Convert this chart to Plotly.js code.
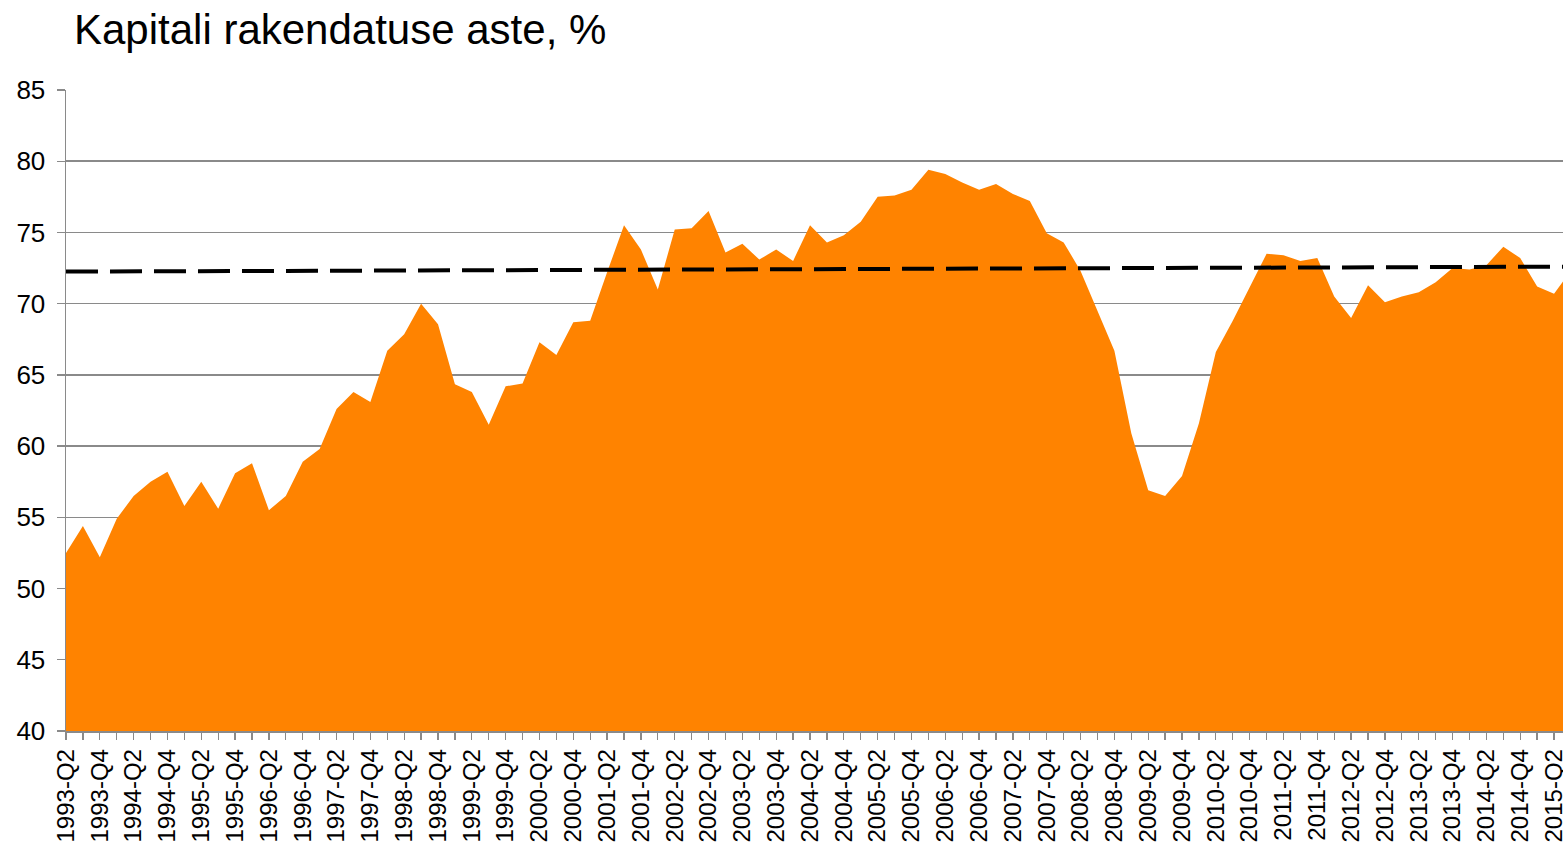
<!DOCTYPE html>
<html>
<head>
<meta charset="utf-8">
<script src="https://cdn.plot.ly/plotly-3.0.1.min.js"></script>
<style>
  html, body { margin: 0; padding: 0; background: #fff; }
  #chart { width: 1563px; height: 852px; }
</style>
</head>
<body>
<div id="chart"></div>
<script>
const categories = [
  "1993-Q2","1993-Q3","1993-Q4",
  "1994-Q1","1994-Q2","1994-Q3","1994-Q4",
  "1995-Q1","1995-Q2","1995-Q3","1995-Q4",
  "1996-Q1","1996-Q2","1996-Q3","1996-Q4",
  "1997-Q1","1997-Q2","1997-Q3","1997-Q4",
  "1998-Q1","1998-Q2","1998-Q3","1998-Q4",
  "1999-Q1","1999-Q2","1999-Q3","1999-Q4",
  "2000-Q1","2000-Q2","2000-Q3","2000-Q4",
  "2001-Q1","2001-Q2","2001-Q3","2001-Q4",
  "2002-Q1","2002-Q2","2002-Q3","2002-Q4",
  "2003-Q1","2003-Q2","2003-Q3","2003-Q4",
  "2004-Q1","2004-Q2","2004-Q3","2004-Q4",
  "2005-Q1","2005-Q2","2005-Q3","2005-Q4",
  "2006-Q1","2006-Q2","2006-Q3","2006-Q4",
  "2007-Q1","2007-Q2","2007-Q3","2007-Q4",
  "2008-Q1","2008-Q2","2008-Q3","2008-Q4",
  "2009-Q1","2009-Q2","2009-Q3","2009-Q4",
  "2010-Q1","2010-Q2","2010-Q3","2010-Q4",
  "2011-Q1","2011-Q2","2011-Q3","2011-Q4",
  "2012-Q1","2012-Q2","2012-Q3","2012-Q4",
  "2013-Q1","2013-Q2","2013-Q3","2013-Q4",
  "2014-Q1","2014-Q2","2014-Q3","2014-Q4",
  "2015-Q1","2015-Q2","2015-Q3"
];

const utilisation = [
  52.5, 54.4, 52.2,
  54.9, 56.5, 57.5, 58.2,
  55.8, 57.5, 55.6, 58.1,
  58.8, 55.5, 56.5, 58.9,
  59.8, 62.6, 63.8, 63.1,
  66.7, 67.85, 70.0, 68.55,
  64.35, 63.8, 61.5, 64.2,
  64.4, 67.3, 66.4, 68.7,
  68.8, 72.2, 75.5, 73.8,
  71.0, 75.2, 75.3, 76.5,
  73.6, 74.2, 73.1, 73.8,
  73.0, 75.5, 74.3, 74.8,
  75.75, 77.5, 77.6, 78.0,
  79.4, 79.1, 78.5, 78.0,
  78.4, 77.7, 77.2, 74.95,
  74.3, 72.3, 69.5, 66.7,
  60.9, 56.9, 56.5, 57.9,
  61.6, 66.6, 68.8, 71.2,
  73.5, 73.4, 73.0, 73.2,
  70.5, 69.0, 71.3, 70.1,
  70.5, 70.8, 71.5, 72.5,
  72.4, 72.7, 74.0, 73.2,
  71.2, 70.7, 72.3
];

// linear trend line, end points
const trendCategories = ["1993-Q2", "2015-Q3"];
const trendValues = [72.25, 72.6];

const tickLabels = categories.map((c, i) => (i % 2 === 0 ? c : ""));

const FONT = "Liberation Sans, Arial, sans-serif";

const traces = [
  {
    type: "scatter",
    mode: "lines",
    x: categories,
    y: utilisation,
    fill: "tozeroy",
    fillcolor: "#FF8300",
    line: { width: 0, color: "#FF8300" },
    hoverinfo: "x+y",
    showlegend: false
  },
  {
    type: "scatter",
    mode: "lines",
    x: trendCategories,
    y: trendValues,
    line: { color: "#000000", width: 4, dash: "32px,12px" },
    hoverinfo: "skip",
    showlegend: false
  }
];

const layout = {
  width: 1563,
  height: 852,
  margin: { l: 66, r: 0, t: 90, b: 121 },
  paper_bgcolor: "#ffffff",
  plot_bgcolor: "#ffffff",
  showlegend: false,
  title: {
    text: "Kapitali rakendatuse aste, %",
    font: { family: FONT, size: 42, color: "#000000" },
    xref: "container",
    yref: "container",
    x: 74 / 1563,
    xanchor: "left",
    y: 1 - 29 / 852,
    yanchor: "middle"
  },
  xaxis: {
    type: "category",
    categoryorder: "array",
    categoryarray: categories,
    range: [0, 88.53],
    tickmode: "array",
    tickvals: categories,
    ticktext: tickLabels,
    tickangle: -90,
    tickfont: { family: FONT, size: 24, color: "#000000" },
    ticks: "outside",
    ticklen: 7,
    tickwidth: 1.3,
    tickcolor: "#8a8a8a",
    showline: true,
    linecolor: "#8a8a8a",
    linewidth: 1.5,
    showgrid: false,
    zeroline: false,
    fixedrange: true
  },
  yaxis: {
    range: [40, 85],
    tickmode: "linear",
    tick0: 40,
    dtick: 5,
    tickfont: { family: FONT, size: 26, color: "#000000" },
    ticks: "outside",
    ticklen: 8,
    tickwidth: 1.3,
    tickcolor: "#8a8a8a",
    ticklabelstandoff: 6,
    showline: true,
    linecolor: "#8a8a8a",
    linewidth: 1.5,
    showgrid: true,
    gridcolor: "#8a8a8a",
    gridwidth: 1.5,
    zeroline: false,
    fixedrange: true
  }
};

Plotly.newPlot("chart", traces, layout, { displayModeBar: false, staticPlot: true });
</script>
</body>
</html>
